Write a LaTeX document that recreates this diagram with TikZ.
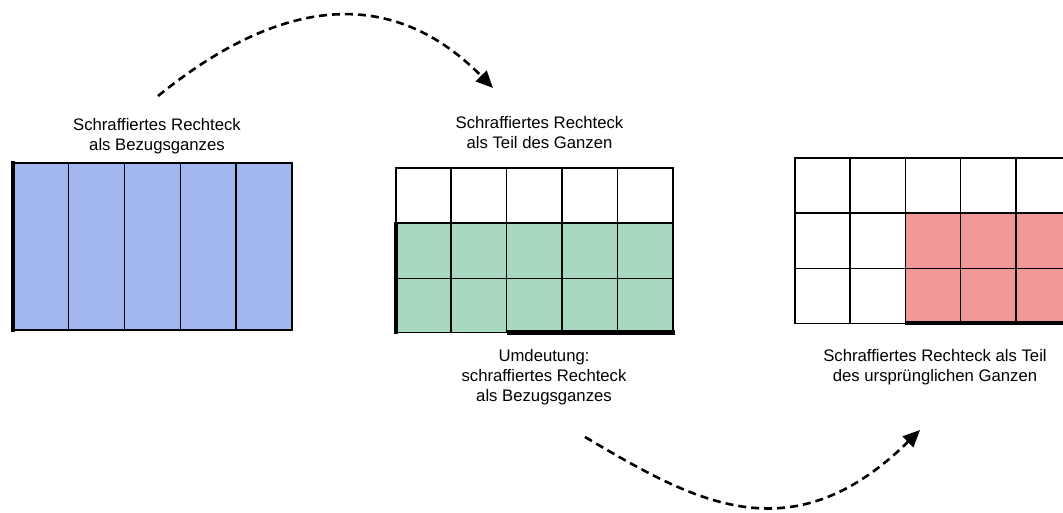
\documentclass[tikz,border=0pt]{standalone}
\usepackage{fontspec}
\setmainfont{Liberation Sans}
\usetikzlibrary{arrows.meta}
\definecolor{hatchblue}{RGB}{162,182,240}
\definecolor{hatchgreen}{RGB}{168,216,192}
\definecolor{hatchred}{RGB}{240,152,152}
\begin{document}
\begin{tikzpicture}[x=1pt,y=-1pt,
  gridline/.style={line width=1.6pt},
  boldedge/.style={line width=4.3pt},
  caption/.style={align=center,inner sep=0pt,
    font=\fontsize{16.7pt}{20pt}\selectfont},
  flow/.style={line width=2.6pt,dash pattern=on 8pt off 5pt,
    -{Triangle[length=17pt,width=15pt]}}]
\useasboundingbox (0,0) rectangle (1063,513);
\clip (0,0) rectangle (1063,513);

% first rectangle: five columns, fully shaded
\fill[hatchblue] (12.7,163) rectangle (292,330);
\foreach \x in {68.56,124.4,180.3,236.1}
  \draw[gridline] (\x,163) -- (\x,330);
\draw[gridline] (12.7,163) rectangle (292,330);
\draw[boldedge] (12.7,161) -- (12.7,332);

% second rectangle: 5 x 3 grid, lower two rows shaded
\fill[hatchgreen] (395.7,223.2) rectangle (672.7,332.4);
\foreach \x in {451.1,506.5,561.9,617.3}
  \draw[gridline] (\x,168.3) -- (\x,332.4);
\foreach \y in {223.2,278.5}
  \draw[gridline] (395.7,\y) -- (672.7,\y);
\draw[gridline] (395.7,168.3) rectangle (672.7,332.4);
\draw[boldedge] (395.7,222) -- (395.7,334.4);
\draw[boldedge] (506.5,332.4) -- (674.7,332.4);

% third rectangle: 5 x 3 grid, lower right block shaded
\fill[hatchred] (905.4,213.3) rectangle (1071,323.3);
\foreach \x in {850.2,905.4,960.6,1015.8}
  \draw[gridline] (\x,158.3) -- (\x,323.3);
\foreach \y in {213.3,268.3}
  \draw[gridline] (795,\y) -- (1071,\y);
\draw[gridline] (795,158.3) rectangle (1071,323.3);
\draw[boldedge] (905.4,323.3) -- (1073,323.3);

% captions
\node[caption] (t1) at (157,136.5) {Schraffiertes Rechteck\\als Bezugsganzes};
\node[caption] (t2) at (539.5,133) {Schraffiertes Rechteck\\als Teil des Ganzen};
\node[caption] (t3) at (544,377.5) {Umdeutung:\\schraffiertes Rechteck\\als Bezugsganzes};
\node[caption] (t4) at (935,367.5) {Schraffiertes Rechteck als Teil\\des ursprünglichen Ganzen};

% dashed curved arrows
\coordinate (a1s) at (158,96);
\coordinate (a1e) at (493,88);
\coordinate (a2s) at (585,437);
\coordinate (a2e) at (920,430);
\draw[flow] (a1s) .. controls (270,5) and (385,-22) .. (a1e);
\draw[flow] (a2s) .. controls (692,500) and (790,558) .. (a2e);
\end{tikzpicture}
\end{document}
